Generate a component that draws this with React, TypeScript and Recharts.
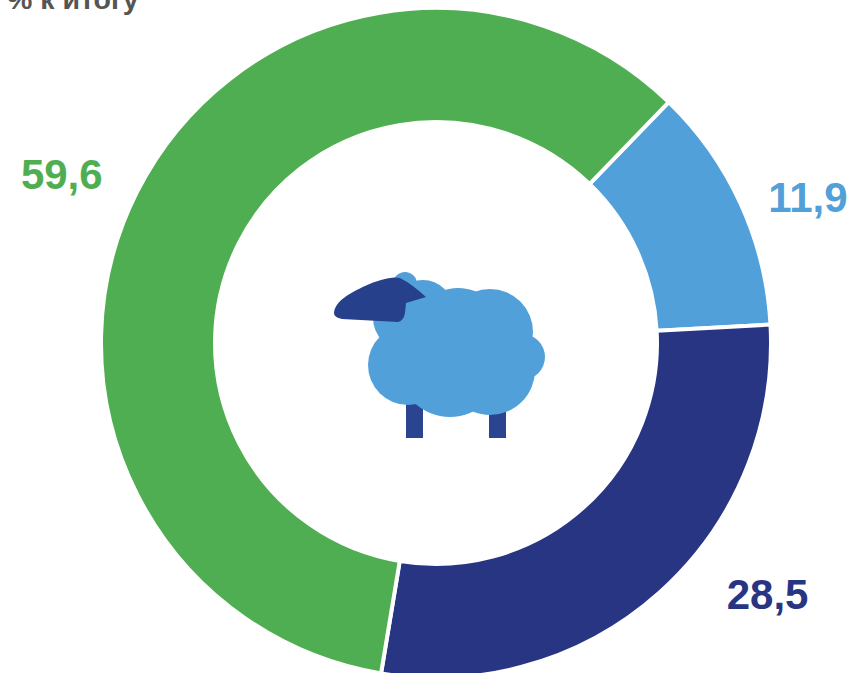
import React from 'react';
import { PieChart, Pie, Cell, Customized } from 'recharts';

const SHARE_NAMES = ['Синие', 'Тёмно-синие', 'Зелёные'];
const SHARE_VALUES = [11.9, 28.5, 59.6];
const SHARE_COLORS = ['#52a0da', '#283583', '#50ae52'];
const TITLE = '% к итогу';

const LABEL_NUDGE = [
  { dx: -1, dy: 25 },
  { dx: 58, dy: -54 },
  { dx: -8, dy: 16 },
];

const data = SHARE_NAMES.map((name, i) => ({ name, value: SHARE_VALUES[i] }));
const FONT = '"Liberation Sans", Arial, sans-serif';

const renderLabel = (props: any) => {
  const { cx, cy, midAngle, outerRadius, index, value } = props;
  const r = outerRadius + 75;
  const x = cx + r * Math.cos((-midAngle * Math.PI) / 180) + LABEL_NUDGE[index].dx;
  const y = cy + r * Math.sin((-midAngle * Math.PI) / 180) + LABEL_NUDGE[index].dy;
  return (
    <text
      x={x}
      y={y}
      textAnchor="middle"
      dominantBaseline="central"
      fill={SHARE_COLORS[index]}
      fontFamily={FONT}
      fontWeight={700}
      fontSize={42}
    >
      {String(value).replace('.', ',')}
    </text>
  );
};

// sheep icon in the hole of the ring
const Sheep = () => (
  <g style={{ filter: 'blur(0.7px)' }}>
    <rect x={406} y={395} width={17} height={43} fill="#2a4490" />
    <rect x={489} y={395} width={17} height={43} fill="#2a4490" />
    <g fill="#52a0da">
      <circle cx={405} cy={284} r={12} />
      <circle cx={423} cy={310} r={30} />
      <circle cx={405} cy={318} r={32} />
      <circle cx={458} cy={335} r={47} />
      <circle cx={490} cy={332} r={43} />
      <circle cx={522} cy={357} r={23} />
      <circle cx={490} cy={370} r={45} />
      <circle cx={408} cy={365} r={40} />
      <circle cx={450} cy={365} r={52} />
    </g>
    <path
      d="M334 313 C335 301 350 293 365 286 C378 280 392 276 400 278 C410 283 418 290 426 297 L406 303 C405 311 406 320 398 322 L342 319 C337 318 334 316 334 313 Z"
      fill="#27408b"
    />
  </g>
);

export default function App() {
  return (
    <div style={{ position: 'absolute', left: 0, top: 0, width: 854, height: 673, overflow: 'hidden' }}>
      <PieChart width={854} height={673} margin={{ top: 0, right: 0, bottom: 0, left: 0 }}>
        <Pie
          data={data}
          dataKey="value"
          nameKey="name"
          cx={436}
          cy={343}
          innerRadius={221}
          outerRadius={335}
          startAngle={46}
          endAngle={-314}
          stroke="#ffffff"
          strokeWidth={4}
          label={renderLabel}
          labelLine={false}
          isAnimationActive={false}
        >
          {data.map((entry, i) => (
            <Cell key={entry.name} fill={SHARE_COLORS[i]} />
          ))}
        </Pie>
        <Customized component={Sheep} />
        <text x={7} y={9} fill="#555555" fontFamily={FONT} fontWeight={700} fontSize={28.5}>
          {TITLE}
        </text>
      </PieChart>
    </div>
  );
}
